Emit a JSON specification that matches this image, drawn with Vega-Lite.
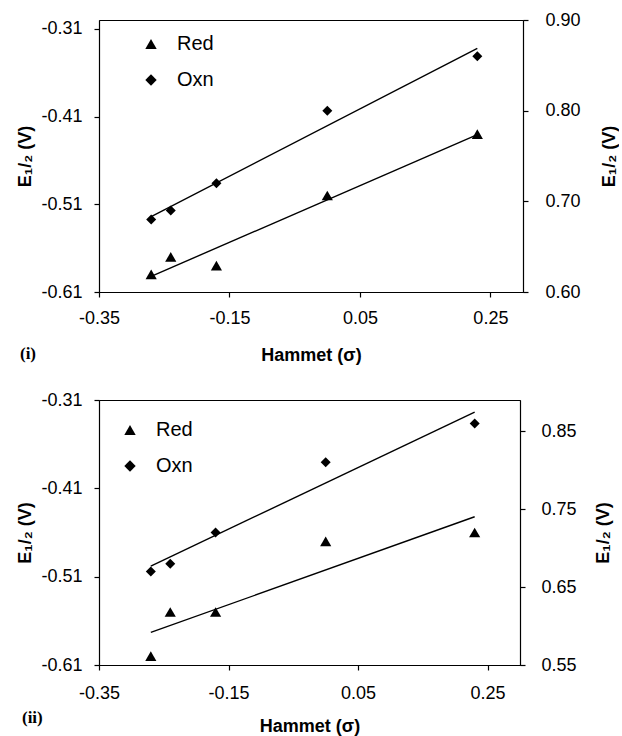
{
  "$schema": "https://vega.github.io/schema/vega-lite/v6.json",
  "padding": {"left": 16, "top": 10, "right": 0, "bottom": 0},
  "spacing": 25,
  "datasets": {
    "hammett": [
      {"panel": "i", "series": "Red", "sigma": -0.27, "E": -0.59},
      {"panel": "i", "series": "Red", "sigma": -0.24, "E": -0.57},
      {"panel": "i", "series": "Red", "sigma": -0.17, "E": -0.58},
      {"panel": "i", "series": "Red", "sigma": 0.0, "E": -0.50},
      {"panel": "i", "series": "Red", "sigma": 0.23, "E": -0.43},
      {"panel": "i", "series": "Oxn", "sigma": -0.27, "E": 0.68},
      {"panel": "i", "series": "Oxn", "sigma": -0.24, "E": 0.69},
      {"panel": "i", "series": "Oxn", "sigma": -0.17, "E": 0.72},
      {"panel": "i", "series": "Oxn", "sigma": 0.0, "E": 0.80},
      {"panel": "i", "series": "Oxn", "sigma": 0.23, "E": 0.86},
      {"panel": "ii", "series": "Red", "sigma": -0.27, "E": -0.60},
      {"panel": "ii", "series": "Red", "sigma": -0.24, "E": -0.55},
      {"panel": "ii", "series": "Red", "sigma": -0.17, "E": -0.55},
      {"panel": "ii", "series": "Red", "sigma": 0.0, "E": -0.47},
      {"panel": "ii", "series": "Red", "sigma": 0.23, "E": -0.46},
      {"panel": "ii", "series": "Oxn", "sigma": -0.27, "E": 0.67},
      {"panel": "ii", "series": "Oxn", "sigma": -0.24, "E": 0.68},
      {"panel": "ii", "series": "Oxn", "sigma": -0.17, "E": 0.72},
      {"panel": "ii", "series": "Oxn", "sigma": 0.0, "E": 0.81},
      {"panel": "ii", "series": "Oxn", "sigma": 0.23, "E": 0.86}
    ]
  },
  "vconcat": [
    {
      "width": 424,
      "height": 272,
      "title": {"text": "(i)", "orient": "bottom", "anchor": "start", "frame": "bounds", "offset": -18, "dx": 3, "font": "Liberation Serif", "fontWeight": "bold", "fontSize": 17, "color": "black"},
      "data": {"name": "hammett"},
      "transform": [{"filter": "datum.panel === 'i'"}],
      "layer": [
        {
          "transform": [{"filter": "datum.series === 'Red'"}],
          "layer": [
            {
              "mark": {"type": "point", "filled": true, "size": 125, "color": "black", "opacity": 1},
              "encoding": {
                "x": {"field": "sigma", "type": "quantitative", "scale": {"domain": [-0.35, 0.3], "nice": false, "zero": false}, "axis": {"values": [-0.35, -0.15, 0.05, 0.25], "format": ".2f", "title": "Hammet (σ)", "titlePadding": 19}},
                "y": {"field": "E", "type": "quantitative", "scale": {"domain": [-0.61, -0.3], "nice": false, "zero": false}, "axis": {"orient": "left", "values": [-0.61, -0.51, -0.41, -0.31], "format": ".2f", "title": "E₁/₂ (V)"}},
                "shape": {"field": "series", "type": "nominal", "scale": {"domain": ["Red", "Oxn"], "range": ["triangle-up", "diamond"]}, "legend": {"title": null, "orient": "none", "legendX": 42, "legendY": 14}}
              }
            },
            {
              "transform": [{"regression": "E", "on": "sigma"}],
              "mark": {"type": "line", "color": "black", "strokeWidth": 1.4},
              "encoding": {
                "x": {"field": "sigma", "type": "quantitative"},
                "y": {"field": "E", "type": "quantitative"}
              }
            }
          ]
        },
        {
          "transform": [{"filter": "datum.series === 'Oxn'"}],
          "layer": [
            {
              "mark": {"type": "point", "filled": true, "size": 100, "color": "black", "opacity": 1},
              "encoding": {
                "x": {"field": "sigma", "type": "quantitative"},
                "y": {"field": "E", "type": "quantitative", "scale": {"domain": [0.6, 0.9], "nice": false, "zero": false}, "axis": {"orient": "right", "values": [0.6, 0.7, 0.8, 0.9], "format": ".2f", "title": "E₁/₂ (V)", "titleAngle": 270, "labelPadding": 17, "titlePadding": 38}},
                "shape": {"field": "series", "type": "nominal", "scale": {"domain": ["Red", "Oxn"], "range": ["triangle-up", "diamond"]}}
              }
            },
            {
              "transform": [{"regression": "E", "on": "sigma"}],
              "mark": {"type": "line", "color": "black", "strokeWidth": 1.4},
              "encoding": {
                "x": {"field": "sigma", "type": "quantitative"},
                "y": {"field": "E", "type": "quantitative"}
              }
            }
          ]
        }
      ],
      "resolve": {"scale": {"y": "independent"}}
    },
    {
      "width": 421,
      "height": 265,
      "title": {"text": "(ii)", "orient": "bottom", "anchor": "start", "frame": "bounds", "offset": -25, "dx": 5, "font": "Liberation Serif", "fontWeight": "bold", "fontSize": 17, "color": "black"},
      "data": {"name": "hammett"},
      "transform": [{"filter": "datum.panel === 'ii'"}],
      "layer": [
        {
          "transform": [{"filter": "datum.series === 'Red'"}],
          "layer": [
            {
              "mark": {"type": "point", "filled": true, "size": 125, "color": "black", "opacity": 1},
              "encoding": {
                "x": {"field": "sigma", "type": "quantitative", "scale": {"domain": [-0.35, 0.3], "nice": false, "zero": false}, "axis": {"values": [-0.35, -0.15, 0.05, 0.25], "format": ".2f", "title": "Hammet (σ)", "labelPadding": 14, "titlePadding": 15}},
                "y": {"field": "E", "type": "quantitative", "scale": {"domain": [-0.61, -0.31], "nice": false, "zero": false}, "axis": {"orient": "left", "values": [-0.61, -0.51, -0.41, -0.31], "format": ".2f", "title": "E₁/₂ (V)"}},
                "shape": {"field": "series", "type": "nominal", "scale": {"domain": ["Red", "Oxn"], "range": ["triangle-up", "diamond"]}, "legend": {"title": null, "orient": "none", "legendX": 21, "legendY": 20}}
              }
            },
            {
              "transform": [{"regression": "E", "on": "sigma"}],
              "mark": {"type": "line", "color": "black", "strokeWidth": 1.4},
              "encoding": {
                "x": {"field": "sigma", "type": "quantitative"},
                "y": {"field": "E", "type": "quantitative"}
              }
            }
          ]
        },
        {
          "transform": [{"filter": "datum.series === 'Oxn'"}],
          "layer": [
            {
              "mark": {"type": "point", "filled": true, "size": 100, "color": "black", "opacity": 1},
              "encoding": {
                "x": {"field": "sigma", "type": "quantitative"},
                "y": {"field": "E", "type": "quantitative", "scale": {"domain": [0.55, 0.89], "nice": false, "zero": false}, "axis": {"orient": "right", "values": [0.55, 0.65, 0.75, 0.85], "format": ".2f", "title": "E₁/₂ (V)", "titleAngle": 270, "labelPadding": 16, "titlePadding": 36}},
                "shape": {"field": "series", "type": "nominal", "scale": {"domain": ["Red", "Oxn"], "range": ["triangle-up", "diamond"]}}
              }
            },
            {
              "transform": [{"regression": "E", "on": "sigma"}],
              "mark": {"type": "line", "color": "black", "strokeWidth": 1.4},
              "encoding": {
                "x": {"field": "sigma", "type": "quantitative"},
                "y": {"field": "E", "type": "quantitative"}
              }
            }
          ]
        }
      ],
      "resolve": {"scale": {"y": "independent"}}
    }
  ],
  "resolve": {"scale": {"shape": "independent"}, "legend": {"shape": "independent"}},
  "config": {
    "background": "white",
    "locale": {"number": {"decimal": ".", "thousands": ",", "grouping": [3], "currency": ["$", ""], "minus": "-"}},
    "view": {"stroke": "black", "strokeWidth": 1},
    "axis": {
      "grid": false,
      "domainColor": "black",
      "domainWidth": 1.2,
      "tickColor": "black",
      "tickWidth": 1.2,
      "tickSize": 5,
      "labelFont": "Liberation Sans",
      "labelFontSize": 18,
      "labelColor": "black",
      "labelPadding": 12,
      "labelFlush": false,
      "labelOverlap": false,
      "titleFont": "Liberation Sans",
      "titleFontSize": 18,
      "titleFontWeight": "bold",
      "titleColor": "black",
      "titlePadding": 6
    },
    "legend": {
      "labelFont": "Liberation Sans",
      "labelFontSize": 20,
      "labelColor": "black",
      "symbolSize": 130,
      "symbolFillColor": "black",
      "symbolStrokeColor": "black",
      "symbolStrokeWidth": 0,
      "symbolOpacity": 1,
      "labelOffset": 16,
      "rowPadding": 16,
      "padding": 0
    }
  }
}
